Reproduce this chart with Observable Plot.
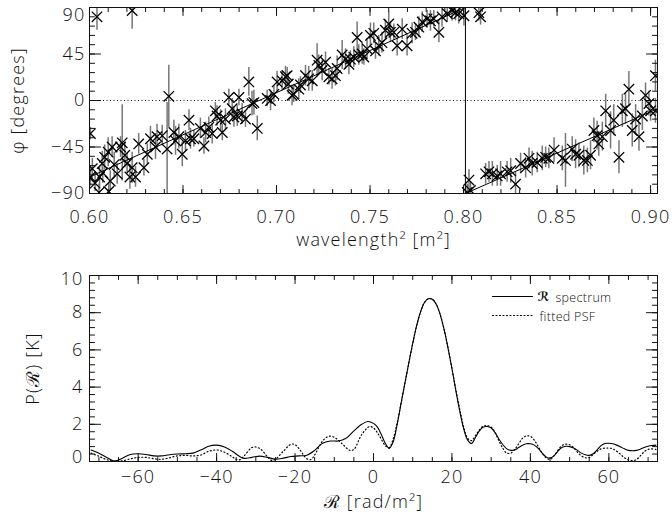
<!DOCTYPE html>
<html><head><meta charset="utf-8">
<script src="https://cdn.jsdelivr.net/npm/d3@7"></script>
<script src="https://cdn.jsdelivr.net/npm/@observablehq/plot@0.6"></script>
<style>
body{margin:0;background:#fff;}
#chart{width:672px;height:520px;overflow:hidden;}
#chart svg{display:block;}
</style></head><body><div id="chart"></div>
<script>
// ---------- top panel: polarisation angle vs wavelength^2 ----------
const wavelength2 = [
0.6005,0.6005,0.6015,0.603,0.604,0.6051,0.6054,0.6068,0.6071,0.6081,0.6100,0.6103,0.6111,0.6121,0.6132,0.6148,0.6166,0.6175,0.6189,0.6201,
0.6216,0.6228,0.6228,0.6246,0.6263,0.6291,0.6309,0.6326,0.6353,0.6361,0.6389,0.6415,0.6424,0.6451,0.6460,0.6478,0.6496,0.6513,0.6532,0.6540,
0.6558,0.6593,0.6612,0.6621,0.6638,0.6656,0.6673,0.6682,0.6701,0.6710,0.6727,0.6745,0.6763,0.6772,0.6790,0.6799,0.6816,0.6834,0.6852,0.6869,
0.6879,0.6897,0.6950,0.6968,0.6986,0.7003,
0.7030,0.7048,0.7057,0.7063,0.7083,0.7092,0.7119,0.7128,0.7155,0.7172,0.7191,0.7217,0.7226,0.7244,0.7262,0.7280,0.7297,0.7315,0.7324,0.7351,
0.7369,0.7387,0.7395,0.7413,0.7431,0.7440,0.7458,0.7467,0.7484,0.7502,0.7520,0.7529,0.7547,0.7564,0.7582,0.7600,0.7609,0.7627,0.7645,0.7672,
0.7698,0.7725,0.7743,0.7761,0.7779,0.7805,0.7823,0.7841,0.7868,0.7885,0.7913,0.7939,0.7957,0.7974,0.8002,
0.8082,0.8091,0.8029,0.8037,0.8020,0.8118,0.8136,0.8154,0.8180,0.8198,0.8233,0.8252,0.8278,0.8305,0.8332,0.8350,0.8367,0.8394,0.8421,0.8439,
0.8456,0.8484,0.8528,0.8545,0.8581,0.8599,0.8617,0.8643,0.8662,0.8679,0.8697,0.8714,0.8723,0.8742,0.8760,0.8786,0.8803,0.8831,0.8849,0.8866,
0.8884,0.8902,0.8920,0.8938,0.8956,0.8973,0.8991,0.9000,0.9026,0.9026];
const phaseDeg = [
-32,-74,-66,-80,81,-89,-74,-61,-70,-55,-50,-88,-78,-45,-62,-71,-45,-41,-53,-61,
-74,87,-65,-74,-42,-65,-52,-37,-45,-35,-34,-47,4,-31,-39,-35,-52,-39,-19,-37,
-37,-27,-44,-31,-26,-32,-10,-15,-19,-31,-18,3,-8,-16,-15,3,-13,-18,18,-3,
-2,-27,2,0,6,18,
19,23,24,16,5,6,11,15,24,21,19,39,34,29,37,23,21,24,31,44,
40,35,40,42,61,44,45,42,50,63,65,48,53,56,68,74,66,66,53,69,
53,65,66,71,76,79,77,79,66,81,84,87,85,84,82,
85,81,-77,-87,-89,-71,-69,-71,-73,-71,-69,-68,-81,-61,-65,-56,-61,-60,-56,-55,
-56,-48,-56,-58,-47,-52,-53,-58,-58,-53,-29,-34,-42,-35,-10,-29,-19,-55,-10,-8,
11,-29,-18,-35,-15,5,-3,-10,24,-10];
const phaseErr = [
6,9,10,8,13,8,10,12,10,12,14,8,10,10,12,10,10,37,12,10,
12,18,15,10,10,8,10,12,12,12,10,45,30,12,14,12,12,10,10,10,
8,10,8,10,10,10,8,10,10,8,10,8,10,10,10,8,10,8,14,12,
12,12,8,10,8,10,
10,10,8,10,10,8,10,8,10,12,10,16,10,10,10,8,10,10,12,14,
10,10,8,10,15,10,10,8,10,12,10,8,10,10,10,12,10,8,10,10,
10,10,8,10,10,8,10,8,10,10,8,10,8,10,10,
8,8,10,8,8,10,10,12,10,12,10,12,12,10,10,10,12,10,12,10,
10,12,12,26,12,14,12,14,12,14,12,14,12,14,16,18,15,16,16,15,
17,16,14,14,14,12,12,10,15,12];
// fitted linear phase (wrapped at +/-90)
const fitWavelength2 = [0.60, 0.801, 0.801, 0.9037];
const fitPhase = [-74, 90, -90, -8];
const phaseTicks = [-90, -45, 0, 45, 90];
const wl2Ticks = [0.60, 0.65, 0.70, 0.75, 0.80, 0.85, 0.90];

// ---------- bottom panel: Faraday spectrum ----------
const rmSpec = [-72,-70,-68,-66,-64,-62,-60,-58,-56,-54,-52,-50,-48,-46,-44,-42,-40,-38,-36,-34,
-33,-31,-29,-27,-25,-23,-21,-19,-17,-15,-13,-11,-9,-7,-5,-3,-1.5,0,1,2,
3,4,5,6,7,8,9,10,11,12,13,14,15,16,17,18,19,20,21,22,
23,24,25,26,27,28,29,30,31,32,33,34,35,36,37,38,39,40,41,42,
43,44,45,46,47,48,49,50,51,52,53,54,55,56,57,58,59,60,61,62,
63,64,65,66,67,68,69,70,71,72];
const specValues = [0.62,0.45,0.22,0.02,0.18,0.38,0.42,0.38,0.3,0.3,0.36,0.4,0.42,0.45,0.62,0.82,0.88,0.78,0.55,0.25,
0.17,0.22,0.29,0.22,0.13,0.18,0.27,0.3,0.34,0.6,0.98,1.1,1.1,1.25,1.65,2.0,2.15,2.05,1.85,1.45,
0.98,0.7,1.05,1.95,3.1,4.2,5.3,6.35,7.3,8.05,8.55,8.75,8.72,8.45,7.9,7.1,6.1,5.0,3.8,2.7,
1.75,1.15,0.97,1.3,1.65,1.85,1.88,1.8,1.55,1.2,0.9,0.68,0.6,0.62,0.75,0.88,0.95,0.95,0.88,0.7,
0.45,0.25,0.18,0.3,0.55,0.75,0.82,0.8,0.72,0.6,0.45,0.36,0.33,0.42,0.62,0.85,0.97,0.98,0.95,0.88,
0.78,0.68,0.6,0.58,0.6,0.66,0.75,0.82,0.86,0.88];
const rmPsf = [-72,-70,-68,-66,-64,-62,-60,-58,-56,-54,-52,-50,-48,-46,-44,-42,-40,-38,-36,-35,
-34,-33,-31,-30,-29,-28,-27,-26,-25,-23,-21,-20,-19,-18,-17,-16,-15,-13,-11.5,-10,
-8,-6,-5,-3,-1,0,1,2,3,4,5,6,7,8,9,10,11,12,13,14,
15,16,17,18,19,20,21,22,23,24,25,26,27,28,29,30,31,32,33,34,
35,36,37,38,39,40,41,42,43,44,45,46,47,48,49,50,51,52,53,54,
55,56,57,58,59,60,61,62,63,64,65,66,67,68,69,70,71,72];
const psfValues = [0.45,0.28,0.1,0.02,0.04,0.14,0.22,0.22,0.15,0.12,0.2,0.3,0.33,0.3,0.35,0.55,0.62,0.5,0.25,0.12,
0.1,0.3,0.75,0.78,0.7,0.5,0.25,0.06,0.12,0.55,0.93,0.9,0.7,0.4,0.15,0.1,0.35,1.1,1.35,1.3,
0.95,0.6,0.65,1.45,1.88,1.8,1.55,1.2,0.85,0.75,1.2,2.05,3.1,4.2,5.3,6.35,7.3,8.05,8.55,8.75,
8.72,8.45,7.9,7.1,6.1,5.0,3.85,2.8,1.85,1.25,1.12,1.4,1.7,1.9,1.93,1.85,1.55,1.1,0.7,0.45,
0.45,0.65,0.95,1.25,1.38,1.35,1.15,0.8,0.45,0.2,0.12,0.3,0.6,0.85,0.93,0.9,0.75,0.5,0.3,0.2,
0.22,0.38,0.55,0.68,0.72,0.72,0.68,0.55,0.38,0.2,0.08,0.05,0.1,0.3,0.52,0.65,0.68,0.65];
const rmTicks = [-60, -40, -20, 0, 20, 40, 60];
const powerTicks = [0, 2, 4, 6, 8, 10];
const legendLabels = ["spectrum", "fitted PSF"];

// ---------- helpers ----------
const ink = "#111";
const font = "'Open Sans','DejaVu Sans',sans-serif";
const minus = d => (d < 0 ? "\u2212" + (-d) : String(d));
const tickLine = {draw(ctx, l) { ctx.moveTo(0, 0); ctx.lineTo(0, -l); }};
function boxTicks(xs, ys, xLen, yLen) {
  const o = {stroke: ink, strokeWidth: 1, anchor: "start", shape: tickLine};
  return [
    Plot.vector(xs, {...o, x: d => d, frameAnchor: "bottom", length: xLen, rotate: 0}),
    Plot.vector(xs, {...o, x: d => d, frameAnchor: "top", length: xLen, rotate: 180}),
    Plot.vector(ys, {...o, y: d => d, frameAnchor: "left", length: yLen, rotate: 90}),
    Plot.vector(ys, {...o, y: d => d, frameAnchor: "right", length: yLen, rotate: -90})
  ];
}
const textStyle = {fontFamily: font, fontSize: "18px", fontWeight: 300, letterSpacing: "1.2px", color: ink, background: "#fff"};

const points = wavelength2.map((w, i) => ({w, p: phaseDeg[i], e: phaseErr[i]}));
const fit = fitWavelength2.map((w, i) => ({w, p: fitPhase[i]}));

const topChart = Plot.plot({
  width: 672, height: 255,
  marginTop: 7, marginBottom: 62, marginLeft: 89, marginRight: 15,
  style: textStyle,
  x: {domain: [0.6, 0.9037]},
  y: {domain: [-90, 90]},
  marks: [
    Plot.ruleY([0], {stroke: ink, strokeWidth: 1, strokeDasharray: "1,2.5"}),
    Plot.ruleX(points, {x: "w", y1: d => d.p - d.e, y2: d => d.p + d.e, stroke: "#777", strokeWidth: 1.5, clip: true}),
    Plot.dot(points, {x: "w", y: "p", symbol: "times", r: 4.8, stroke: "#000", strokeWidth: 1.3, clip: true}),
    Plot.line(fit, {x: "w", y: "p", stroke: "#000", strokeWidth: 1}),
    ...boxTicks(wl2Ticks, phaseTicks, 8, 11),
    ...boxTicks(d3.range(0.60, 0.9001, 0.01), d3.range(-90, 90.1, 9), 4, 5),
    Plot.frame({stroke: ink, strokeWidth: 1}),
    Plot.axisX({ticks: wl2Ticks, tickSize: 0, tickPadding: 17, tickFormat: d3.format(".2f"), label: null, fill: ink}),
    Plot.axisY({ticks: phaseTicks.slice(0, 4), tickSize: 0, tickPadding: 4, tickFormat: minus, label: null, fill: ink}),
    Plot.axisY({ticks: phaseTicks.slice(4), tickSize: 0, tickPadding: 4, tickFormat: minus, label: null, fill: ink, dy: 8}),
    Plot.text(["wavelength\u00b2 [m\u00b2]"], {frameAnchor: "bottom", dy: 47, fill: ink, lineAnchor: "middle", textAnchor: "middle"}),
    Plot.text(["\u03c6 [degrees]"], {frameAnchor: "left", dx: -71, rotate: -90, fill: ink, lineAnchor: "middle", textAnchor: "middle"})
  ]
});

const spec = rmSpec.map((r, i) => ({r, v: specValues[i]}));
const psf = rmPsf.map((r, i) => ({r, v: psfValues[i]}));
const legendShape = {draw(ctx, l) { ctx.moveTo(0, 0); ctx.lineTo(0, -l); }};

const bottomChart = Plot.plot({
  width: 672, height: 265,
  marginTop: 20, marginBottom: 59, marginLeft: 89, marginRight: 15,
  style: textStyle,
  x: {domain: [-72.4, 72.4]},
  y: {domain: [0, 10]},
  marks: [
    Plot.line(psf, {x: "r", y: "v", stroke: "#000", strokeWidth: 1.2, strokeDasharray: "1,2.5", curve: "catmull-rom", clip: true}),
    Plot.line(spec, {x: "r", y: "v", stroke: "#000", strokeWidth: 1.1, curve: "catmull-rom", clip: true}),
    ...boxTicks(rmTicks, powerTicks, 8, 11),
    ...boxTicks(d3.range(-70, 70.1, 5), d3.range(0, 10.01, 0.4), 4, 5),
    Plot.frame({stroke: ink, strokeWidth: 1}),
    Plot.axisX({ticks: rmTicks, tickSize: 0, tickPadding: 9, tickFormat: minus, label: null, fill: ink}),
    Plot.axisY({ticks: powerTicks.slice(1, 5), tickSize: 0, tickPadding: 6, tickFormat: minus, label: null, fill: ink}),
    Plot.axisY({ticks: powerTicks.slice(0, 1), tickSize: 0, tickPadding: 6, tickFormat: minus, label: null, fill: ink, dy: -4}),
    Plot.axisY({ticks: powerTicks.slice(5), tickSize: 0, tickPadding: 6, tickFormat: minus, label: null, fill: ink, dy: 4}),
    Plot.text(["\u211b [rad/m\u00b2]"], {frameAnchor: "bottom", dy: 41, fill: ink, lineAnchor: "middle", textAnchor: "middle"}),
    Plot.text(["P(\u211b) [K]"], {frameAnchor: "left", dx: -56, rotate: -90, fill: ink, lineAnchor: "middle", textAnchor: "middle"}),
    // legend
    Plot.vector([legendLabels[0]], {frameAnchor: "top-right", dx: -165, dy: 21, length: 40, rotate: 90, anchor: "start", shape: legendShape, stroke: "#000", strokeWidth: 1.1}),
    Plot.vector([legendLabels[1]], {frameAnchor: "top-right", dx: -165, dy: 40, length: 40, rotate: 90, anchor: "start", shape: legendShape, stroke: "#000", strokeWidth: 1.2, strokeDasharray: "1,2.5"}),
    Plot.text(["\u211b"], {frameAnchor: "top-right", dx: -120, dy: 21, textAnchor: "start", lineAnchor: "middle", fontSize: 12.5, fontWeight: "bold", fill: ink}),
    Plot.text([legendLabels[0]], {frameAnchor: "top-right", dx: -102, dy: 22, textAnchor: "start", lineAnchor: "middle", fontSize: 12.5, fill: ink}),
    Plot.text([legendLabels[1]], {frameAnchor: "top-right", dx: -118, dy: 41, textAnchor: "start", lineAnchor: "middle", fontSize: 12.5, fill: ink})
  ]
});

// tighter letter spacing for the small legend texts
d3.select(bottomChart).selectAll("text")
  .filter(function () { return legendLabels.includes(this.textContent) || this.textContent === "\u211b"; })
  .style("letter-spacing", "0.3px");

const c = document.getElementById("chart");
c.appendChild(topChart);
c.appendChild(bottomChart);
</script></body></html>
